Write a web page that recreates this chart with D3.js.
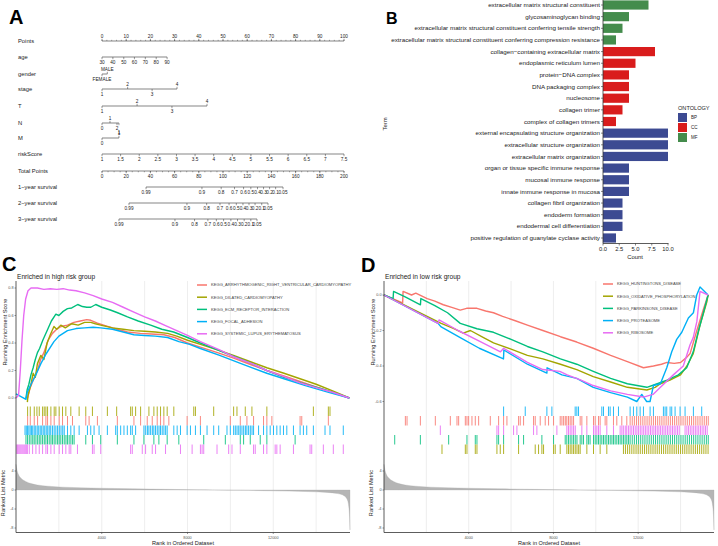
<!DOCTYPE html>
<html><head><meta charset="utf-8">
<script src="https://cdn.jsdelivr.net/npm/d3@7"></script>
<style>body{margin:0;background:#fff}svg{display:block;font-family:"Liberation Sans",Arial,sans-serif}</style>
</head><body><svg id="c" width="718" height="546"></svg>
<script>
// ---------------- Panel A data (nomogram) ----------------
const pointsTicks=[0,10,20,30,40,50,60,70,80,90,100];
const ageLabels=["30","40","50","60","70","80","90"];
const agePoints=[0,4.5,9,13.4,17.9,22.4,26.9];
const genderLabels=["FEMALE","MALE"];
const genderPoints=[0,2.2];
const stageLabels=["1","2","3","4"];
const stagePoints=[0,10.6,20.7,31];
const tLabels=["1","2","3","4"];
const tPoints=[0,14.5,28.9,43.4];
const nLabels=["0","1","2","1"];
const nPoints=[0,3.3,6.2,7];
const mLabels=["0","1"];
const mPoints=[0,7];
const riskLabels=[1,1.5,2,2.5,3,3.5,4,4.5,5,5.5,6,6.5,7,7.5];
const totalTicks=[0,20,40,60,80,100,120,140,160,180,200];
const survLabels=["0.99","0.9","0.8","0.7","0.6","0.5","0.4","0.3","0.2","0.1","0.05"];
const surv1Points=[36.4,82.6,98.5,109.5,117,123,128.5,133.5,138.5,143.5,149.6];
const surv2Points=[22.3,70.2,86.5,97.5,105,111,116.5,121.5,126.5,132,137.2];
const surv3Points=[14,60.3,76.5,87.5,94.5,100.5,106.5,112,117.5,123,128.1];
const nomoNames=["Points","age","gender","stage","T","N","M","riskScore","Total Points","1\u2212year survival","2\u2212year survival","3\u2212year survival"];

// ---------------- Panel B data (GO) ----------------
const goTerms=["extracellular matrix structural constituent","glycosaminoglycan binding","extracellular matrix structural constituent conferring tensile strength","extracellular matrix structural constituent conferring compression resistance","collagen\u2212containing extracellular matrix","endoplasmic reticulum lumen","protein\u2212DNA complex","DNA packaging complex","nucleosome","collagen trimer","complex of collagen trimers","external encapsulating structure organization","extracellular structure organization","extracellular matrix organization","organ or tissue specific immune response","mucosal immune response","innate immune response in mucosa","collagen fibril organization","endoderm formation","endodermal cell differentiation","positive regulation of guanylate cyclase activity"];
const goCounts=[7,4,3,2,8,5,4,4,4,3,2,10,10,10,4,4,4,3,3,3,2];
const goOntology=["MF","MF","MF","MF","CC","CC","CC","CC","CC","CC","CC","BP","BP","BP","BP","BP","BP","BP","BP","BP","BP"];
const ontLevels=["BP","CC","MF"];
const ontColors=["#3C4A92","#D91C1C","#448C4C"];
const countTicks=[0,2.5,5,7.5,10];

// ---------------- Panel C / D data (GSEA) ----------------
const gseaColors=["#F8766D","#A3A500","#00BF7D","#00B0F6","#E76BF3"];
const setsC=["KEGG_ARRHYTHMOGENIC_RIGHT_VENTRICULAR_CARDIOMYOPATHY","KEGG_DILATED_CARDIOMYOPATHY","KEGG_ECM_RECEPTOR_INTERACTION","KEGG_FOCAL_ADHESION","KEGG_SYSTEMIC_LUPUS_ERYTHEMATOSUS"];
const setsD=["KEGG_HUNTINGTONS_DISEASE","KEGG_OXIDATIVE_PHOSPHORYLATION","KEGG_PARKINSONS_DISEASE","KEGG_PROTEASOME","KEGG_RIBOSOME"];
const rankTicks=[4000,8000,12000];
const gridRanks=[2000,4000,6000,8000,10000,12000,14000];
const metricTicks=[4,0,-4,-8];
const metricRank=[0,40,120,250,450,700,1000,1500,2200,3000,4000,5500,7000,8500,9200,10500,12000,13500,14500,15000,15300,15450,15520,15560,15580];
const metricVal=[5.4,4.3,3.2,2.4,1.8,1.35,1.05,0.8,0.6,0.47,0.37,0.25,0.14,0.04,0,-0.07,-0.18,-0.32,-0.5,-0.75,-1.2,-2.0,-3.4,-5.8,-8.4];

const esArvc=[[540,0],[650,0.07],[800,0.13],[1000,0.2],[1150,0.28],[1300,0.33],[1500,0.42],[1700,0.47],[1900,0.5],[2100,0.52],[2400,0.53],[2700,0.55],[3000,0.56],[3300,0.57],[3490,0.565],[3800,0.545],[4200,0.525],[4700,0.5],[5200,0.48],[5800,0.47],[6300,0.465],[6900,0.46],[7400,0.44],[8000,0.4],[8600,0.37],[9400,0.33],[10150,0.29],[11000,0.24],[11700,0.2],[12500,0.16],[13250,0.12],[14000,0.08],[14800,0.04],[15550,0]];
const esDilated=[[530,-0.03],[560,0.02],[700,0.1],[800,0.18],[900,0.15],[1000,0.25],[1160,0.31],[1300,0.28],[1450,0.4],[1600,0.46],[1770,0.52],[1900,0.5],[2090,0.53],[2300,0.51],[2600,0.54],[2900,0.53],[3200,0.55],[3490,0.55],[3700,0.54],[3950,0.53],[4500,0.51],[5000,0.5],[5500,0.49],[6000,0.485],[6500,0.48],[7070,0.47],[7500,0.45],[8000,0.42],[8600,0.39],[9400,0.35],[10150,0.31],[11000,0.26],[11700,0.22],[12500,0.18],[13250,0.14],[14000,0.1],[14800,0.05],[15550,0]];
const esEcm=[[465,0],[520,0.06],[600,0.1],[700,0.17],[800,0.22],[900,0.28],[1000,0.33],[1100,0.36],[1250,0.42],[1480,0.5],[1650,0.56],[1860,0.61],[2000,0.6],[2200,0.63],[2400,0.65],[2600,0.655],[2880,0.68],[3100,0.665],[3300,0.66],[3490,0.66],[3720,0.68],[4000,0.66],[4400,0.64],[4740,0.62],[5200,0.59],[5700,0.56],[6280,0.53],[6800,0.5],[7350,0.48],[8000,0.44],[8600,0.4],[9400,0.35],[10200,0.3],[11000,0.25],[11700,0.2],[12500,0.15],[13300,0.11],[14200,0.07],[14900,0.035],[15550,0]];
const esFocal=[[0,0.03],[465,-0.01],[520,0.04],[700,0.1],[900,0.16],[1160,0.25],[1400,0.32],[1770,0.41],[2000,0.45],[2400,0.49],[2800,0.505],[3200,0.51],[3600,0.515],[3950,0.51],[4500,0.5],[5000,0.48],[5500,0.46],[6000,0.455],[6500,0.45],[7070,0.44],[7600,0.41],[8100,0.39],[8600,0.36],[9500,0.31],[10500,0.25],[11700,0.18],[12500,0.14],[13500,0.09],[14500,0.045],[15550,0]];
const esSle=[[0,0],[120,0.02],[200,0.2],[280,0.42],[360,0.6],[450,0.72],[560,0.78],[700,0.8],[1000,0.8],[1300,0.79],[1600,0.795],[1900,0.79],[2200,0.795],[2500,0.785],[2800,0.78],[3200,0.765],[3600,0.745],[4000,0.72],[4500,0.695],[5000,0.66],[5500,0.625],[6000,0.59],[6500,0.56],[7000,0.525],[7500,0.49],[8000,0.455],[8600,0.41],[9500,0.35],[10150,0.3],[11000,0.25],[11700,0.2],[12500,0.155],[13250,0.11],[14000,0.075],[14800,0.04],[15550,0]];

const esHunt=[[0,0],[600,-0.03],[880,-0.045],[900,0.02],[1300,0.0],[1500,0.01],[2040,-0.02],[2400,-0.035],[2800,-0.055],[3200,-0.07],[3600,-0.085],[3900,-0.075],[4390,-0.075],[4800,-0.09],[5170,-0.1],[5600,-0.12],[6200,-0.145],[6770,-0.17],[7500,-0.2],[8330,-0.235],[9100,-0.265],[9880,-0.3],[10700,-0.34],[11490,-0.375],[12250,-0.41],[12720,-0.4],[13100,-0.39],[13360,-0.38],[13700,-0.385],[14000,-0.38],[14300,-0.35],[14450,-0.33],[14770,-0.2],[15080,-0.08],[15300,0]];
const esOxphos=[[0,0],[2700,-0.16],[3300,-0.19],[3740,-0.215],[4080,-0.2],[4700,-0.24],[5170,-0.27],[6000,-0.305],[6770,-0.34],[7500,-0.36],[8330,-0.39],[9100,-0.42],[9880,-0.46],[10700,-0.49],[11490,-0.52],[12410,-0.535],[12800,-0.52],[13050,-0.5],[13500,-0.48],[14000,-0.45],[14300,-0.4],[14600,-0.33],[14920,-0.17],[15240,-0.04],[15300,0]];
const esPark=[[0,0],[430,-0.02],[450,0.02],[1000,-0.01],[1720,-0.055],[1740,-0.02],[2400,-0.06],[3000,-0.1],[3600,-0.16],[4390,-0.19],[5170,-0.21],[6000,-0.25],[6770,-0.29],[7500,-0.32],[8330,-0.36],[9100,-0.39],[9880,-0.43],[10700,-0.47],[11490,-0.5],[12410,-0.52],[12900,-0.5],[13360,-0.48],[13900,-0.45],[14290,-0.41],[14600,-0.32],[14850,-0.2],[15080,-0.1],[15300,0]];
const esProt=[[0,0],[2550,-0.16],[2700,-0.18],[3600,-0.24],[4500,-0.3],[5640,-0.36],[5660,-0.31],[6770,-0.39],[7690,-0.44],[7700,-0.41],[8400,-0.45],[9100,-0.47],[9880,-0.52],[10700,-0.55],[11490,-0.575],[11935,-0.6],[12170,-0.56],[12400,-0.6],[12560,-0.6],[12720,-0.51],[13050,-0.5],[13350,-0.41],[13585,-0.32],[13820,-0.25],[14060,-0.21],[14370,-0.13],[14607,-0.1],[14765,0],[14920,0.045],[15300,0]];
const esRibo=[[0,0],[2550,-0.16],[2600,-0.14],[3500,-0.2],[4500,-0.26],[5500,-0.32],[5650,-0.3],[6770,-0.38],[7500,-0.42],[8300,-0.43],[8650,-0.45],[9300,-0.48],[9880,-0.51],[10700,-0.54],[11490,-0.56],[12250,-0.575],[12700,-0.56],[13050,-0.52],[13660,-0.45],[14130,-0.4],[14450,-0.28],[14600,-0.24],[14770,-0.15],[14920,0.02],[15300,0]];

const hitsArvc=[542,666,852,1007,1240,1395,1472,1627,1782,2015,2170,2402,2635,3255,3410,3797,4727,5502,5812,6122,6355,6587,6742,6897,7130,7982,8602,9997,10462,10772,11082,11547,11702,11935,13252,13330,14570];
const hitsDilated=[542,666,852,976,1085,1240,1317,1395,1472,1627,1782,1860,2015,2170,2325,2557,2945,3255,3565,4262,4696,5347,5425,5580,5812,6200,6432,6587,6742,6897,7052,7362,8292,8370,9222,10152,10307,10695,11005,11702,13872,14570,14647];
const hitsEcm=[465,540,620,700,780,850,930,1010,1085,1160,1240,1320,1395,1470,1550,1630,1700,1780,1860,1940,2015,2090,2170,2250,2330,2400,2480,2560,2640,2712,3255,3565,3952,4727,5502,5967,6432,6665,7052,7595,8757,9765,10462,10617,10927,11392,11702,13020];
const hitsFocal=[420,480,540,600,660,720,780,850,920,990,1060,1130,1200,1270,1340,1410,1480,1550,1620,1700,1780,1860,1940,2020,2100,2180,2250,2402,2557,2712,2945,3332,3487,3642,3875,4262,4650,4727,4882,5037,5192,5347,5425,5580,5967,6050,6130,6200,6280,6360,6430,6510,6590,6670,6740,6820,6900,6980,7052,7362,7517,7672,7982,8137,8370,8602,8912,9222,9455,9842,9997,10152,10230,10310,10390,10460,10540,10620,10700,10770,10850,10930,11010,11082,11315,11547,11702,11857,12012,12167,12322,12477,12632,12942,13252,13407,13562,13872,14415,14647,15267];
const hitsSle=[40,80,130,180,230,280,330,380,430,480,530,620,775,930,1085,1240,1395,1472,1627,1782,2015,2170,2325,2480,2557,2867,3565,3642,3952,5347,5425,5890,6045,6355,6510,6975,7672,8215,8602,8680,8757,9377,9920,10075,10462,11082,11160,11547,11702,12090,12167,12322,12942,13717,13795,14337,14802,15267];

const hitsHunt=[1009,1088,1717,2424,3131,3446,3524,3839,3917,3996,4153,4310,4468,5018,5411,5647,5804,6354,6433,6590,7061,7140,7376,7612,7769,8005,8319,8400,8480,8560,8630,8710,8790,8870,8950,9262,9341,9577,9891,9970,10127,10205,10441,10520,10834,10991,11227,11463,11620,11720,11820,11920,12020,12120,12220,12320,12420,12520,12620,12720,12820,12920,13020,13120,13220,13320,13420,13520,13620,13720,13820,13920,14020,14120,14220,14320,14420,14520,14620,14720,14820,14920,15020,15120,15220,15310];
const hitsOxphos=[2738,3839,3917,4310,4389,5332,5489,5647,6354,7140,7297,7454,7533,8005,8083,8319,8633,8710,8790,8870,8950,9030,9110,9190,9262,9577,9891,10205,10520,11305,11400,11500,11600,11700,11800,11900,12000,12100,12200,12300,12400,12500,12600,12700,12800,12900,13000,13100,13200,13300,13400,13500,13600,13700,13800,13900,14000,14100,14200,14300,14400,14500,14600,14700,14800,14900,15000,15100,15200,15300];
const hitsPark=[506,1717,3053,3917,4310,4389,5332,5411,5647,6354,6590,7454,8005,8555,8630,8710,8790,8870,8950,9030,9110,9262,9341,9420,9577,9650,9730,9891,9970,10050,10127,10205,10284,10363,10441,10520,10600,10680,10760,10834,10912,10991,11070,11148,11227,11305,11384,11463,11540,11620,11720,11820,11920,12020,12120,12220,12320,12420,12520,12620,12720,12820,12920,13020,13120,13220,13320,13420,13520,13620,13720,13820,13920,14020,14120,14220,14320,14420,14520,14620,14720,14820,14920,15020,15120,15220,15310];
const hitsProt=[5647,6668,7690,7926,9026,9105,9184,10284,10363,10598,10677,10834,11070,11620,11777,11935,12092,12249,12563,12720,13192,13271,13349,13507,13585,13743,13978,14214,14607,15000];
const hitsRibo=[2660,5332,5411,5647,6118,6275,7061,7218,8162,8633,8710,8790,8870,8950,9030,9341,9577,9891,9970,10050,10127,10205,10520,10834,11148,11230,11300,11390,11460,11540,11620,11700,11780,11860,11940,12020,12100,12180,12260,12340,12420,12500,12580,12660,12740,12820,12900,12980,13060,13140,13220,13300,13380,13460,13540,13620,13700,13780,13860,13940,14214,14300,14380,14460,14540,14620,14700,14780,14860,14940,15020,15100,15180,15260];

// ================= drawing =================
const svg=d3.select("#c");
svg.append("rect").attr("width",718).attr("height",546).attr("fill","#fff");
const TXT="#222";

// ---------- Panel A ----------
const A=svg.append("g");
A.append("text").attr("x",9).attr("y",24).attr("font-size",20).attr("font-weight","bold").text("A");
const pts=d3.scaleLinear([0,100],[102,344]);
const tot=d3.scaleLinear([0,200],[102,344]);
const rowY=[41,57,74,89,106,123,138,154,171,187,203,219];
A.selectAll("text.nm").data(nomoNames).join("text").attr("class","nm")
 .attr("x",18).attr("y",(d,i)=>rowY[i]+2).attr("font-size",5.8).attr("fill",TXT).text(d=>d);

function nomoRow(y, xs, labels, sides){
  A.append("line").attr("x1",d3.min(xs)).attr("x2",d3.max(xs)).attr("y1",y).attr("y2",y).attr("stroke","#333").attr("stroke-width",0.6);
  xs.forEach((x,i)=>{
    const s=sides[i];
    const dir=s<0?-1:1;
    A.append("line").attr("x1",x).attr("x2",x).attr("y1",y).attr("y2",y+dir*2.2).attr("stroke","#333").attr("stroke-width",0.5);
    const ty = s<0 ? y-3.2 : (s===2 ? y+11 : y+7);
    A.append("text").attr("x",x).attr("y",ty).attr("text-anchor","middle").attr("font-size",4.7).attr("fill",TXT).text(labels[i]);
  });
}
nomoRow(rowY[0], pointsTicks.map(pts), pointsTicks.map(String), pointsTicks.map(()=>-1));
d3.range(0,101,2).forEach(v=>A.append("line").attr("x1",pts(v)).attr("x2",pts(v)).attr("y1",rowY[0]).attr("y2",rowY[0]-1.2).attr("stroke","#333").attr("stroke-width",0.4));
nomoRow(rowY[1], agePoints.map(pts), ageLabels, ageLabels.map(()=>1));
nomoRow(rowY[2], genderPoints.map(pts), genderLabels, [1,-1]);
nomoRow(rowY[3], stagePoints.map(pts), stageLabels, [1,-1,1,-1]);
nomoRow(rowY[4], tPoints.map(pts), tLabels, [1,-1,1,-1]);
nomoRow(rowY[5], nPoints.map(pts), nLabels, [1,-1,1,2]);
nomoRow(rowY[6], mPoints.map(pts), mLabels, [1,-1]);
const riskToPts=d3.scaleLinear([1,7.5],[0,100]);
nomoRow(rowY[7], riskLabels.map(v=>pts(riskToPts(v))), riskLabels.map(String), riskLabels.map(()=>1));
nomoRow(rowY[8], totalTicks.map(tot), totalTicks.map(String), totalTicks.map(()=>1));
d3.range(0,201,5).forEach(v=>A.append("line").attr("x1",tot(v)).attr("x2",tot(v)).attr("y1",rowY[8]).attr("y2",rowY[8]+1.3).attr("stroke","#333").attr("stroke-width",0.4));
nomoRow(rowY[9], surv1Points.map(tot), survLabels, survLabels.map(()=>1));
nomoRow(rowY[10], surv2Points.map(tot), survLabels, survLabels.map(()=>1));
nomoRow(rowY[11], surv3Points.map(tot), survLabels, survLabels.map(()=>1));

// ---------- Panel B ----------
const B=svg.append("g");
B.append("text").attr("x",386).attr("y",24).attr("font-size",16).attr("font-weight","bold").text("B");
const bx=d3.scaleLinear([0,10],[603,668]);
const by=d3.scalePoint().domain(goTerms).range([5,238]);
const oc=d3.scaleOrdinal(ontLevels,ontColors);
B.selectAll("rect.bar").data(goTerms).join("rect").attr("class","bar")
 .attr("x",bx(0)).attr("y",d=>by(d)-4.6).attr("height",9.2)
 .attr("width",(d,i)=>bx(goCounts[i])-bx(0)).attr("fill",(d,i)=>oc(goOntology[i]));
B.append("line").attr("x1",603).attr("x2",603).attr("y1",-1).attr("y2",243.5).attr("stroke","#333").attr("stroke-width",0.8);
B.append("line").attr("x1",603).attr("x2",668.5).attr("y1",243.5).attr("y2",243.5).attr("stroke","#333").attr("stroke-width",0.8);
goTerms.forEach(t=>{
  B.append("line").attr("x1",601).attr("x2",603).attr("y1",by(t)).attr("y2",by(t)).attr("stroke","#333").attr("stroke-width",0.6);
  B.append("text").attr("x",600).attr("y",by(t)+2.1).attr("text-anchor","end").attr("font-size",6.25).attr("fill",TXT).text(t);
});
countTicks.forEach(v=>{
  B.append("line").attr("x1",bx(v)).attr("x2",bx(v)).attr("y1",243.5).attr("y2",245.5).attr("stroke","#333").attr("stroke-width",0.6);
  B.append("text").attr("x",bx(v)).attr("y",250.5).attr("text-anchor","middle").attr("font-size",5.8).attr("fill",TXT).text(d3.format(".1f")(v));
});
B.append("text").attr("x",635).attr("y",258.5).attr("text-anchor","middle").attr("font-size",5.9).attr("fill",TXT).text("Count");
B.append("text").attr("transform","translate(387,124) rotate(-90)").attr("text-anchor","middle").attr("font-size",5.9).attr("fill",TXT).text("Term");
B.append("text").attr("x",678).attr("y",109.5).attr("font-size",5.6).attr("fill",TXT).text("ONTOLOGY");
ontLevels.forEach((o,i)=>{
  B.append("rect").attr("x",678).attr("y",113+i*10).attr("width",9).attr("height",9).attr("fill",ontColors[i]);
  B.append("text").attr("x",691).attr("y",119.3+i*10).attr("font-size",4.5).attr("fill",TXT).text(o);
});

// ---------- Panels C & D ----------
function gsea(o){
  const g=svg.append("g");
  const x=d3.scaleLinear([0,15580],[o.x0,o.x1]);
  const y=d3.scaleLinear(o.esDom,o.esRng);
  const ym=d3.scaleLinear([-8,4],[528,471]);
  g.append("text").attr("x",o.lx).attr("y",o.ly).attr("font-size",20).attr("font-weight","bold").text(o.letter);
  g.append("text").attr("x",o.x0+1).attr("y",278.5).attr("font-size",6.6).attr("fill",TXT).text(o.title);
  g.selectAll("line.grid").data(gridRanks).join("line").attr("class","grid")
   .attr("x1",d=>x(d)).attr("x2",d=>x(d)).attr("y1",281).attr("y2",532).attr("stroke","#e6e6e6").attr("stroke-width",0.7);
  const area=d3.area().x(d=>x(d[0])).y0(ym(0)).y1(d=>ym(d[1])).curve(d3.curveMonotoneX);
  g.append("path").attr("d",area(metricRank.map((r,i)=>[r,metricVal[i]]))).attr("fill","#b5b5b5").attr("stroke","#aaa").attr("stroke-width",0.3);
  o.rows.forEach((r,i)=>{
    g.selectAll(null).data(r.hits).join("line").attr("x1",d=>x(d)).attr("x2",d=>x(d))
     .attr("y1",406.5+i*9.5).attr("y2",406.5+(i+1)*9.5).attr("stroke",r.color).attr("stroke-width",1).attr("stroke-opacity",0.85);
  });
  const line=d3.line().x(d=>x(d[0])).y(d=>y(d[1]));
  o.curves.forEach(c=>g.append("path").attr("d",line(c.es)).attr("fill","none").attr("stroke",c.color).attr("stroke-width",1.4).attr("stroke-linejoin","round"));
  g.append("line").attr("x1",o.x0).attr("x2",o.x0).attr("y1",281).attr("y2",532.5).attr("stroke","#333").attr("stroke-width",0.8);
  g.append("line").attr("x1",o.x0).attr("x2",o.x1).attr("y1",532.5).attr("y2",532.5).attr("stroke","#333").attr("stroke-width",0.8);
  o.esTicks.forEach((v,i)=>{
    g.append("line").attr("x1",o.x0-1.5).attr("x2",o.x0).attr("y1",y(v)).attr("y2",y(v)).attr("stroke","#333").attr("stroke-width",0.5);
    g.append("text").attr("x",o.x0-2.5).attr("y",y(v)+1.4).attr("text-anchor","end").attr("font-size",3.8).attr("fill","#555").text(o.esLabels[i]);
  });
  metricTicks.forEach(v=>{
    g.append("line").attr("x1",o.x0-1.5).attr("x2",o.x0).attr("y1",ym(v)).attr("y2",ym(v)).attr("stroke","#333").attr("stroke-width",0.5);
    g.append("text").attr("x",o.x0-2.5).attr("y",ym(v)+1.4).attr("text-anchor","end").attr("font-size",3.8).attr("fill","#555").text(v);
  });
  rankTicks.forEach(v=>{
    g.append("line").attr("x1",x(v)).attr("x2",x(v)).attr("y1",532.5).attr("y2",534).attr("stroke","#333").attr("stroke-width",0.5);
    g.append("text").attr("x",x(v)).attr("y",538.5).attr("text-anchor","middle").attr("font-size",3.8).attr("fill","#555").text(v);
  });
  g.append("text").attr("x",(o.x0+o.x1)/2).attr("y",544.5).attr("text-anchor","middle").attr("font-size",5.6).attr("fill",TXT).text("Rank in Ordered Dataset");
  g.append("text").attr("transform",`translate(${o.x0-9},332) rotate(-90)`).attr("text-anchor","middle").attr("font-size",5.6).attr("fill",TXT).text("Running Enrichment Score");
  g.append("text").attr("transform",`translate(${o.x0-11},493) rotate(-90)`).attr("text-anchor","middle").attr("font-size",5.6).attr("fill",TXT).text("Ranked List Metric");
  o.names.forEach((n,i)=>{
    const ly=o.legY+i*12.2;
    g.append("line").attr("x1",o.legX).attr("x2",o.legX+10).attr("y1",ly).attr("y2",ly).attr("stroke",gseaColors[i]).attr("stroke-width",1.5);
    g.append("text").attr("x",o.legX+14).attr("y",ly+1.4).attr("font-size",4.1).attr("fill","#444").text(n);
  });
}

gsea({letter:"C",lx:2,ly:271,x0:16,x1:350,title:"Enriched in high risk group",
  esDom:[0,0.8],esRng:[398,288],esTicks:[0,0.2,0.4,0.6,0.8],esLabels:["0.0","0.2","0.4","0.6","0.8"],
  names:setsC,legX:197,legY:285,
  curves:[{es:esArvc,color:gseaColors[0]},{es:esDilated,color:gseaColors[1]},{es:esEcm,color:gseaColors[2]},{es:esFocal,color:gseaColors[3]},{es:esSle,color:gseaColors[4]}],
  rows:[{hits:hitsDilated,color:gseaColors[1]},{hits:hitsArvc,color:gseaColors[0]},{hits:hitsFocal,color:gseaColors[3]},{hits:hitsEcm,color:gseaColors[2]},{hits:hitsSle,color:gseaColors[4]}]});

gsea({letter:"D",lx:361,ly:272,x0:384,x1:714,title:"Enriched in low risk group",
  esDom:[0,-0.6],esRng:[295,401.5],esTicks:[0,-0.2,-0.4,-0.6],esLabels:["0.0","-0.2","-0.4","-0.6"],
  names:setsD,legX:603,legY:284,
  curves:[{es:esHunt,color:gseaColors[0]},{es:esOxphos,color:gseaColors[1]},{es:esPark,color:gseaColors[2]},{es:esProt,color:gseaColors[3]},{es:esRibo,color:gseaColors[4]}],
  rows:[{hits:hitsProt,color:gseaColors[3]},{hits:hitsHunt,color:gseaColors[0]},{hits:hitsRibo,color:gseaColors[4]},{hits:hitsPark,color:gseaColors[2]},{hits:hitsOxphos,color:gseaColors[1]}]});
</script></body></html>
